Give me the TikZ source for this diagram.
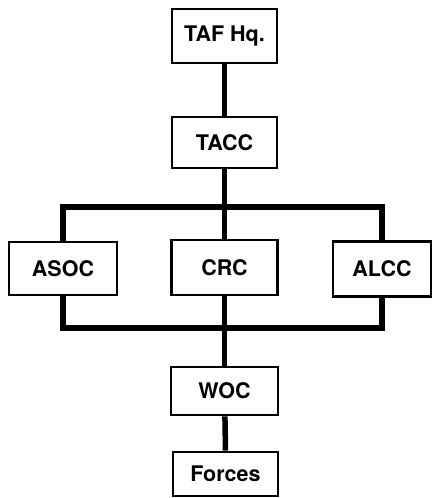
\documentclass[tikz,border=0pt]{standalone}
\usepackage{fontspec}
\setmainfont{TeX Gyre Heros}
\begin{document}
\begin{tikzpicture}[x=1pt,y=-1pt,
  unitbox/.style={draw,line width=2.6pt,inner sep=0pt,minimum height=#1,
    font=\fontsize{21.5}{23}\selectfont\bfseries},
  link/.style={line width=5.5pt}]
\useasboundingbox (0,0) rectangle (433,498);
\node[unitbox=54pt,minimum width=105pt] (taf) at (224.5,36) {TAF Hq.};
\node[unitbox=51pt,minimum width=105pt] (tacc) at (224.5,142.5) {TACC};
\node[unitbox=53pt,minimum width=108pt] (asoc) at (63,268.5) {ASOC};
\node[unitbox=55pt,minimum width=106pt] (crc) at (224.5,267.5) {CRC};
\node[unitbox=55pt,minimum width=98pt] (alcc) at (382,269) {ALCC};
\node[unitbox=48pt,minimum width=107pt] (woc) at (224.5,391) {WOC};
\node[unitbox=44pt,minimum width=105pt] (forces) at (225.5,474) {Forces};
\coordinate (bt) at (224.5,207);
\coordinate (bb) at (224.5,328);
\draw[link] (taf) -- (tacc);
\draw[link] (tacc) -- (crc);
\draw[link] (asoc.north) |- (bt) -| (alcc.north);
\draw[link] (asoc.south) |- (bb) -| (alcc.south);
\draw[link] (crc) -- (woc);
\draw[link] (woc) -- (forces.north);
\end{tikzpicture}
\end{document}
